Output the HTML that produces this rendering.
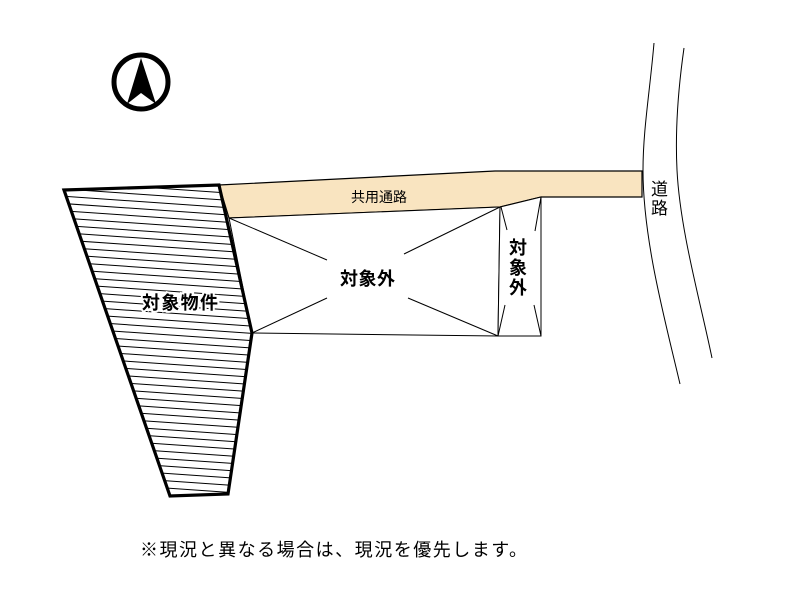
<!DOCTYPE html>
<html><head><meta charset="utf-8"><style>
html,body{margin:0;padding:0;background:#fff;width:800px;height:600px;overflow:hidden}
svg{display:block}
text{font-family:"Liberation Sans","Noto Sans CJK JP",sans-serif}
</style></head><body>
<svg width="800" height="600" viewBox="0 0 800 600" xmlns="http://www.w3.org/2000/svg">
<defs>
<clipPath id="pc"><polygon points="64,190 219,185 252,333 228,494 170,496"/></clipPath>
</defs>
<!-- compass -->
<circle cx="141" cy="82" r="27" fill="none" stroke="#000" stroke-width="5"/>
<polygon points="141,58 127,104 141,93 156,104" fill="#000"/>
<!-- shared path -->
<polygon points="219,185 495,171 642,171 642,197 541,197 500,207 229,218" fill="#f9e4c0" stroke="#000" stroke-width="1.2"/>
<!-- big excluded rect -->
<polygon points="229,218 500,207 498,336 252,333" fill="#fff" stroke="#000" stroke-width="1"/>
<line x1="229" y1="218" x2="327" y2="260" stroke="#000"/>
<line x1="500" y1="207" x2="404" y2="254" stroke="#000"/>
<line x1="252" y1="333" x2="327" y2="298" stroke="#000"/>
<line x1="498" y1="336" x2="408" y2="298" stroke="#000"/>
<!-- small excluded rect -->
<polygon points="500,207 541,197 541,336 498,336" fill="#fff" stroke="#000" stroke-width="1"/>
<line x1="501" y1="207" x2="507" y2="230" stroke="#000"/>
<line x1="541" y1="197" x2="535" y2="231" stroke="#000"/>
<line x1="498" y1="336" x2="505" y2="305" stroke="#000"/>
<line x1="541" y1="336" x2="534" y2="305" stroke="#000"/>
<!-- parcel hatch -->
<g clip-path="url(#pc)" stroke="#000" stroke-width="1">
<path d="M40,180 L300,198 M40,187.3 L300,205.3 M40,194.6 L300,212.6 M40,201.9 L300,219.9 M40,209.2 L300,227.2 M40,216.5 L300,234.5 M40,223.8 L300,241.8 M40,231.1 L300,249.1 M40,238.4 L300,256.4 M40,245.7 L300,263.7 M40,253 L300,271 M40,260.3 L300,278.3 M40,267.6 L300,285.6 M40,274.9 L300,292.9 M40,282.2 L300,300.2 M40,289.5 L300,307.5 M40,296.8 L300,314.8 M40,304.1 L300,322.1 M40,311.4 L300,329.4 M40,318.7 L300,336.7 M40,326 L300,344 M40,333.3 L300,351.3 M40,340.6 L300,358.6 M40,347.9 L300,365.9 M40,355.2 L300,373.2 M40,362.5 L300,380.5 M40,369.8 L300,387.8 M40,377.1 L300,395.1 M40,384.4 L300,402.4 M40,391.7 L300,409.7 M40,399 L300,417 M40,406.3 L300,424.3 M40,413.6 L300,431.6 M40,420.9 L300,438.9 M40,428.2 L300,446.2 M40,435.5 L300,453.5 M40,442.8 L300,460.8 M40,450.1 L300,468.1 M40,457.4 L300,475.4 M40,464.7 L300,482.7 M40,472 L300,490 M40,479.3 L300,497.3 M40,486.6 L300,504.6"/>
</g>
<rect x="140" y="290" width="80" height="24" fill="#fff" opacity="0.0"/>
<polygon points="64,190 219,185 252,333 228,494 170,496" fill="none" stroke="#000" stroke-width="3.2" stroke-linejoin="miter"/>
<!-- road -->
<path d="M654,43 C650,90 643,130 643,170 C643,240 665,320 680,384" fill="none" stroke="#000" stroke-width="1"/>
<path d="M684,48 C678,90 675,130 677,170 C680,230 700,300 712,358" fill="none" stroke="#000" stroke-width="1"/>
<!-- labels -->
<text x="351" y="202" font-size="14" textLength="56">共用通路</text>
<text x="340" y="285" font-size="18" font-weight="bold" textLength="55">対象外</text>
<text x="142" y="309" font-size="18" font-weight="bold" stroke="#fff" stroke-width="4" paint-order="stroke" textLength="76">対象物件</text>
<text x="509" y="254" font-size="18" font-weight="bold">対</text>
<text x="509" y="274" font-size="18" font-weight="bold">象</text>
<text x="509" y="294" font-size="18" font-weight="bold">外</text>
<text x="651" y="195" font-size="17">道</text>
<text x="651" y="214" font-size="17">路</text>
<text x="140" y="556" font-size="18" textLength="387">※現況と異なる場合は、現況を優先します。</text>
</svg>
</body></html>
